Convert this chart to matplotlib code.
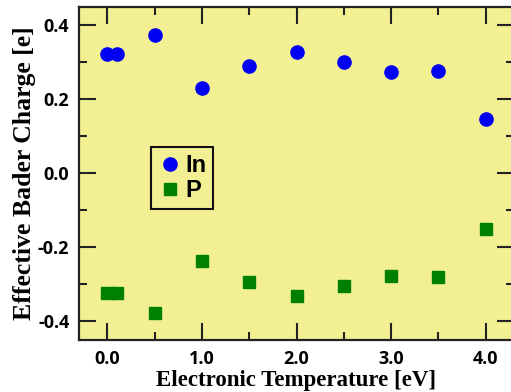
import matplotlib
matplotlib.use("Agg")
import matplotlib.pyplot as plt
from matplotlib.ticker import MultipleLocator

# Electronic temperature [eV]
temperature = [0.0, 0.1, 0.5, 1.0, 1.5, 2.0, 2.5, 3.0, 3.5, 4.0]
# Effective Bader charge [e]
charge_in = [0.322, 0.322, 0.374, 0.232, 0.291, 0.329, 0.302, 0.274, 0.276, 0.147]
charge_p = [-0.324, -0.324, -0.378, -0.236, -0.293, -0.332, -0.305, -0.278, -0.279, -0.149]

xticks = [0.0, 1.0, 2.0, 3.0, 4.0]
xticklabels = ["0.0", "1.0", "2.0", "3.0", "4.0"]
yticks = [-0.4, -0.2, 0.0, 0.2, 0.4]
yticklabels = ["-0.4", "-0.2", "0.0", "0.2", "0.4"]

fig = plt.figure(figsize=(5.11, 3.92), dpi=100)
ax = fig.add_axes([0.1546, 0.1327, 0.8514, 0.8495])
ax.set_facecolor("#f3f093")

ax.plot(temperature, charge_in, "o", color="#0000f5", markersize=9.5, label="In", clip_on=False)
ax.plot(temperature, charge_p, "s", color="#008000", markersize=8, label="P", clip_on=False)

ax.set_xlim(-0.3, 4.3)
ax.set_ylim(-0.45, 0.45)

ax.set_xticks(xticks)
ax.set_xticklabels(xticklabels)
ax.set_yticks(yticks)
ax.set_yticklabels(yticklabels)
ax.xaxis.set_minor_locator(MultipleLocator(0.5))
ax.yaxis.set_minor_locator(MultipleLocator(0.1))

ax.tick_params(which="both", direction="in", top=True, right=True, width=1.5, color="#222222")
ax.tick_params(which="major", length=12.5, pad=7)
ax.tick_params(which="minor", length=6)
for lab in ax.get_xticklabels() + ax.get_yticklabels():
    lab.set_fontfamily("Open Sans")
    lab.set_fontweight("bold")
    lab.set_fontsize(13)

for sp in ax.spines.values():
    sp.set_linewidth(1.6)
    sp.set_color("#222222")

ax.set_xlabel("Electronic Temperature [eV]", family="Liberation Serif", fontweight="bold",
              fontsize=16.5, labelpad=1.5)
ax.set_ylabel("Effective Bader Charge [e]", family="Liberation Serif", fontweight="bold",
              fontsize=18.5, labelpad=1)

leg = ax.legend(loc="upper left", bbox_to_anchor=(0.165, 0.58), borderaxespad=0,
                frameon=True, fancybox=False,
                handletextpad=0.15, handlelength=1.0, borderpad=0.3, labelspacing=0.1,
                prop={"family": "Liberation Sans", "weight": "bold", "size": 17})
leg.get_frame().set_facecolor("#f3f093")
leg.get_frame().set_edgecolor("#111111")
leg.get_frame().set_linewidth(1.5)
leg.get_frame().set_alpha(1)

fig.savefig("out.png", dpi=100)
